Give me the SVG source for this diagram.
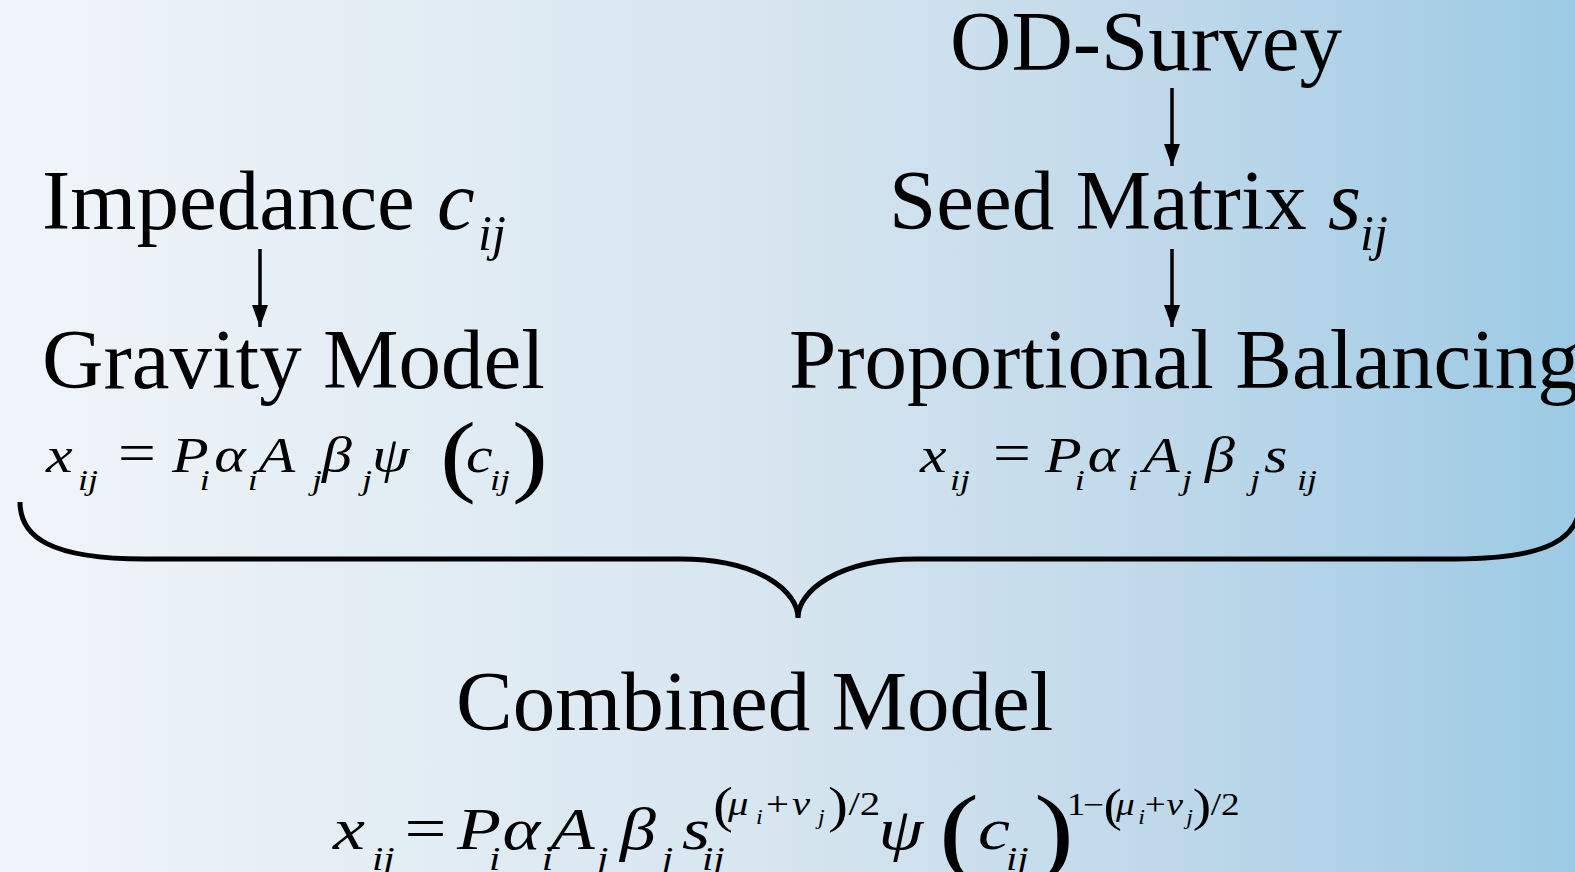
<svg xmlns="http://www.w3.org/2000/svg" width="1575" height="872" viewBox="0 0 1575 872">
<defs>
<linearGradient id="bg" x1="0" y1="0" x2="1" y2="0">
<stop offset="0" stop-color="#f0f5fa"/>
<stop offset="0.5" stop-color="#d6e5ef"/>
<stop offset="0.75" stop-color="#bed8ea"/>
<stop offset="1" stop-color="#9ccae4"/>
</linearGradient>
<marker id="ah" markerUnits="userSpaceOnUse" markerWidth="22" markerHeight="16" refX="22" refY="8" orient="auto">
<path d="M0,0 L22,8 L0,16 z" fill="#000"/>
</marker>
<style>
.t{font-family:"Liberation Serif","Times New Roman",serif;font-size:85px;fill:#000}
.m{font-family:"Liberation Serif","Times New Roman",serif;font-style:italic;fill:#000}
.u{font-family:"Liberation Serif","Times New Roman",serif;font-style:normal;fill:#000}
.e{font-size:50px}
.s{font-size:30px}
.E{font-size:60px}
.S{font-size:34px}
.P{font-size:34px}
.Q{font-size:31px}
.ss{font-size:20px}
.conn{stroke:#000;stroke-width:3.5;fill:none}
</style>
</defs>
<rect x="0" y="0" width="1575" height="872" fill="url(#bg)"/>

<g id="connectors">
<line class="conn" x1="260" y1="249" x2="260" y2="327" marker-end="url(#ah)"/>
<line class="conn" x1="1172" y1="88" x2="1172" y2="166" marker-end="url(#ah)"/>
<line class="conn" x1="1172" y1="249" x2="1172" y2="327" marker-end="url(#ah)"/>
<path d="M20,502 C20,537 50,559 145,559 L680,559 C760,559 798,592 798,618 C798,592 836,559 916,559 L1455,559 C1550,559 1580,537 1580,502" fill="none" stroke="#000" stroke-width="5"/>
</g>

<g id="od-survey">
<text class="t" x="950" y="70">OD-Survey</text>
</g>

<g id="impedance">
<text class="t" x="42" y="229">Impedance <tspan class="m" x="437">c</tspan><tspan class="m" font-size="50" x="478" y="250">ij</tspan></text>
</g>

<g id="seed-matrix">
<text class="t" x="889" y="229">Seed Matrix <tspan class="m" x="1328">s</tspan><tspan class="m" font-size="50" x="1360" y="250">ij</tspan></text>
</g>

<g id="gravity-model">
<text class="t" x="42" y="388">Gravity Model</text>
<text class="m e" y="472" transform="scale(1.2 1)"><tspan x="38.3">x</tspan><tspan class="s" x="65" y="490">ij</tspan><tspan class="u" x="98.3" y="472" font-size="56">=</tspan><tspan x="143.3" y="472">P</tspan><tspan class="s" x="166.5" y="490">i</tspan><tspan x="178.5" y="472">α</tspan><tspan class="s" x="206.5" y="490">i</tspan><tspan x="215.5" y="472">A</tspan><tspan class="s" x="260" y="490">j</tspan><tspan x="268.3" y="472">β</tspan><tspan class="s" x="301.7" y="490">j</tspan><tspan x="310" y="472">ψ</tspan><tspan class="u" x="366.7" y="485" font-size="90">(</tspan><tspan x="388.3" y="472">c</tspan><tspan class="s" x="408.3" y="490">ij</tspan><tspan class="u" x="426.7" y="485" font-size="90">)</tspan></text>
</g>

<g id="proportional-balancing">
<text class="t" x="789" y="388">Proportional Balancing</text>
<text class="m e" y="472" transform="scale(1.2 1)"><tspan x="766.7">x</tspan><tspan class="s" x="791.7" y="490">ij</tspan><tspan class="u" x="827.5" y="472" font-size="56">=</tspan><tspan x="870.8" y="472">P</tspan><tspan class="s" x="895.7" y="490">i</tspan><tspan x="906.5" y="472">α</tspan><tspan class="s" x="940" y="490">i</tspan><tspan x="952.5" y="472">A</tspan><tspan class="s" x="985" y="490">j</tspan><tspan x="1004.2" y="472">β</tspan><tspan class="s" x="1041.7" y="490">j</tspan><tspan x="1053.3" y="472">s</tspan><tspan class="s" x="1080.8" y="490">ij</tspan></text>
</g>

<g id="combined-model">
<text class="t" x="456" y="730">Combined Model</text>
<text class="m E" y="849" transform="scale(1.2 1)"><tspan x="277.5">x</tspan><tspan class="S" x="310" y="870">ij</tspan><tspan class="u" x="337" y="849" font-size="62">=</tspan><tspan x="380.8" y="849">P</tspan><tspan class="S" x="407.5" y="870">i</tspan><tspan x="418.8" y="849">α</tspan><tspan class="S" x="451.5" y="870">i</tspan><tspan x="459" y="849">A</tspan><tspan class="S" x="497.5" y="870">j</tspan><tspan x="516.7" y="849">β</tspan><tspan class="S" x="551.5" y="870">j</tspan><tspan x="568.3" y="849">s</tspan><tspan class="S" x="585" y="870">ij</tspan><tspan class="u" x="594.2" y="822" font-size="50">(</tspan><tspan class="P" x="606.7" y="815">μ</tspan><tspan class="ss" x="630" y="824">i</tspan><tspan class="u P" x="638.3" y="815">+</tspan><tspan class="P" x="660" y="815">ν</tspan><tspan class="ss" x="681.7" y="824">j</tspan><tspan class="u" x="690" y="822" font-size="50">)</tspan><tspan class="u P" x="707" y="815">/2</tspan><tspan x="732" y="849">ψ</tspan><tspan class="u" x="782.5" y="864" font-size="100">(</tspan><tspan x="815" y="849">c</tspan><tspan class="S" x="838.3" y="870">ij</tspan><tspan class="u" x="861.7" y="864" font-size="100">)</tspan><tspan class="u Q" x="889" y="815">1</tspan><tspan class="u Q" x="902.5" y="815">−</tspan><tspan class="u" x="919.5" y="821" font-size="46">(</tspan><tspan class="Q" x="930" y="815">μ</tspan><tspan class="ss" x="948.5" y="824">i</tspan><tspan class="u Q" x="954" y="815">+</tspan><tspan class="Q" x="972" y="815">ν</tspan><tspan class="ss" x="988.5" y="824">j</tspan><tspan class="u" x="994" y="821" font-size="46">)</tspan><tspan class="u Q" x="1009" y="815">/2</tspan></text>
</g>
</svg>
